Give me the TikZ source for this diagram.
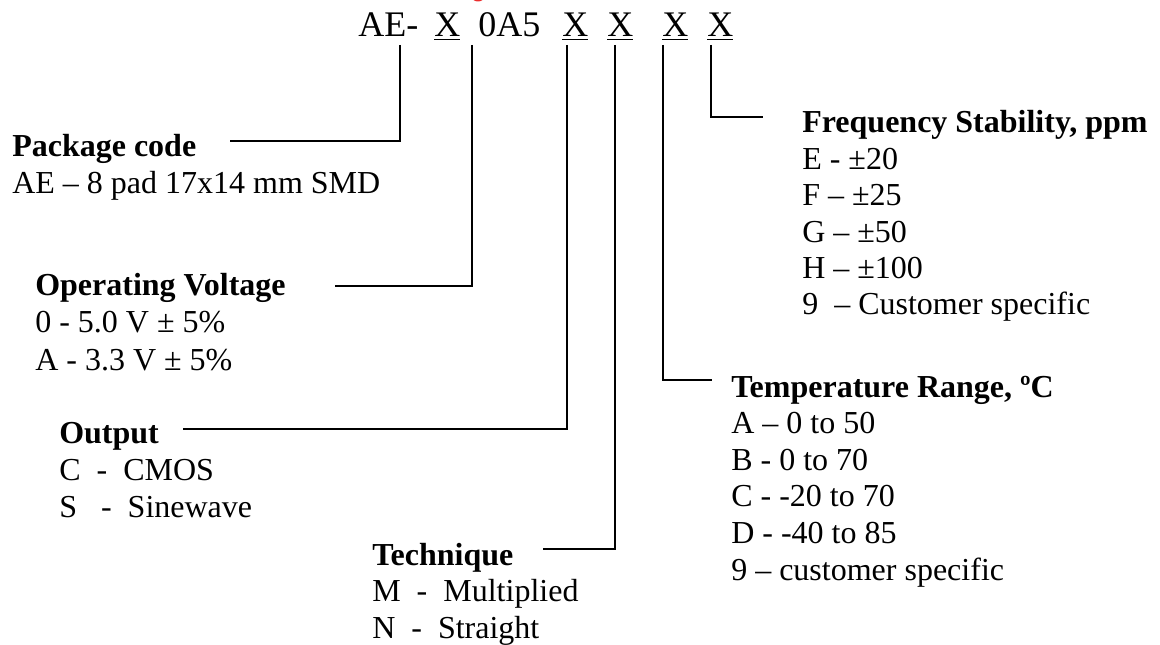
\documentclass[tikz,border=0pt]{standalone}
\usepackage{fontspec}
\setmainfont{Liberation Serif}
\usetikzlibrary{calc}
\definecolor{ink}{RGB}{0,0,0}
\definecolor{signal}{RGB}{235,45,45}
\tikzset{
  lead/.style={draw=ink,line width=1.3pt},
  code/.style={anchor=base west,inner sep=0pt,text=ink,font=\fontsize{27}{32}\selectfont},
  head/.style={anchor=base west,inner sep=0pt,text=ink,font=\fontsize{24}{28}\selectfont\bfseries},
  item/.style={anchor=base west,inner sep=0pt,text=ink,font=\fontsize{24}{28}\selectfont},
}

\begin{document}
\begin{tikzpicture}[x=0.75pt,y=-0.75pt]
  \useasboundingbox (0,0) rectangle (1160,645);
  \fill[signal] (478,-3) ellipse (6 and 4.5);
  % part number
  \node[code] (ae) at (358,37) {AE-};
  \node[code] (x1) at (434,37) {\underline{X}};
  \node[code] (mid) at (478,37) {0A5};
  \node[code] (x2) at (562,37) {\underline{X}};
  \node[code] (x3) at (607,37) {\underline{X}};
  \node[code] (x4) at (662,37) {\underline{X}};
  \node[code] (x5) at (707,37) {\underline{X}};
  % legend blocks
  \node[head] (pkg) at (12,157) {Package code};
  \foreach \t [count=\i] in {AE – 8 pad 17x14 mm SMD}
    \node[item] (pkg-\i) at ($(pkg.base west)+(0,37*\i)$) {\t};
  \node[head] (volt) at (35,296) {Operating Voltage};
  \foreach \t [count=\i] in {0 - 5.0 V ± 5\%, A - 3.3 V ± 5\%}
    \node[item] (volt-\i) at ($(volt.base west)+(0,37*\i)$) {\t};
  \node[head] (out) at (59,443) {Output};
  \foreach \t [count=\i] in {C~~-~~CMOS, S~~~-~~Sinewave}
    \node[item] (out-\i) at ($(out.base west)+(0,37*\i)$) {\t};
  \node[head] (tech) at (372,565) {Technique};
  \foreach \t [count=\i] in {M~~-~~Multiplied, N~~-~~Straight}
    \node[item] (tech-\i) at ($(tech.base west)+(0,36.5*\i)$) {\t};
  \node[head] (temp) at (731,397) {Temperature Range, ºC};
  \foreach \t [count=\i] in {A – 0 to 50, B - 0 to 70, C - -20 to 70, D - -40 to 85, 9 – customer specific}
    \node[item] (temp-\i) at ($(temp.base west)+(0,36.6*\i)$) {\t};
  \node[head] (freq) at (802,133) {Frequency Stability, ppm};
  \foreach \t [count=\i] in {E - ±20, F – ±25, G – ±50, H – ±100, 9~~– Customer specific}
    \node[item] (freq-\i) at ($(freq.base west)+(0,36.4*\i)$) {\t};
  % leader lines
  \coordinate (pkg-top) at (400,45);   \coordinate (pkg-end) at (230,141);
  \coordinate (volt-top) at (472,45);  \coordinate (volt-end) at (335,286);
  \coordinate (out-top) at (567,45);   \coordinate (out-end) at (183,429);
  \coordinate (tech-top) at (615,45);  \coordinate (tech-end) at (543,549);
  \coordinate (temp-top) at (663,45);  \coordinate (temp-end) at (712,380);
  \coordinate (freq-top) at (711,45);  \coordinate (freq-end) at (763,117);
  \foreach \n in {pkg,volt,out,tech,temp,freq}
    \draw[lead] (\n-top) |- (\n-end);
\end{tikzpicture}
\end{document}
